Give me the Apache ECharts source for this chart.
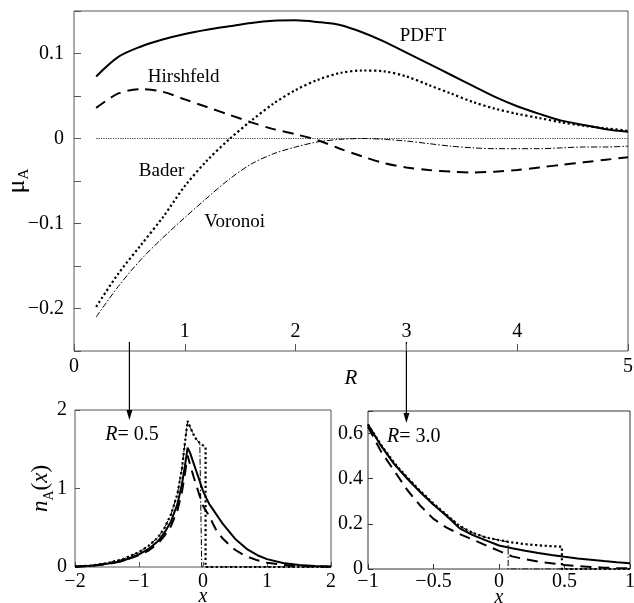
<!DOCTYPE html>
<html>
<head>
<meta charset="utf-8">
<script src="https://cdn.jsdelivr.net/npm/echarts@6/dist/echarts.min.js"></script>
<style>
  html, body { margin: 0; padding: 0; background: #fff; }
  #chart { width: 634px; height: 603px; }
</style>
</head>
<body>
<div id="chart"></div>
<script>
// ---- upper panel: atomic dipole mu_A versus separation R ----
const rTop = [0.2, 0.4, 0.6, 0.8, 1.0, 1.2, 1.4, 1.6, 1.8, 2.0, 2.2, 2.4, 2.6, 2.8, 3.0, 3.2, 3.4, 3.6, 3.8, 4.0, 4.2, 4.4, 4.6, 4.8, 5.0];
const muPDFT = [0.073, 0.096, 0.108, 0.1165, 0.123, 0.128, 0.132, 0.136, 0.1385, 0.139, 0.137, 0.1335, 0.125, 0.114, 0.101, 0.088, 0.075, 0.062, 0.049, 0.038, 0.029, 0.021, 0.016, 0.011, 0.008];
const muHirshfeld = [0.036, 0.053, 0.058, 0.055, 0.046, 0.037, 0.028, 0.019, 0.011, 0.005, -0.002, -0.012, -0.021, -0.029, -0.034, -0.037, -0.039, -0.040, -0.039, -0.037, -0.034, -0.031, -0.028, -0.025, -0.022];
const muBader = [-0.198, -0.159, -0.126, -0.093, -0.056, -0.026, -0.001, 0.021, 0.041, 0.057, 0.069, 0.077, 0.080, 0.079, 0.073, 0.063, 0.053, 0.043, 0.035, 0.029, 0.024, 0.019, 0.015, 0.012, 0.009];
const muVoronoi = [-0.210, -0.174, -0.143, -0.117, -0.093, -0.070, -0.048, -0.030, -0.018, -0.010, -0.004, -0.001, 0.000, -0.001, -0.003, -0.006, -0.009, -0.011, -0.012, -0.012, -0.012, -0.011, -0.010, -0.010, -0.009];
const zeroLineR = [0.2, 5.0];
const zeroLineMu = [0, 0];

// ---- lower left panel: densities at R = 0.5 ----
const xSmooth05 = [-2, -1.75, -1.5, -1.25, -1, -0.85, -0.7, -0.6, -0.5, -0.4, -0.33, -0.28, -0.24, -0.2, -0.15, -0.1, -0.05, 0, 0.05, 0.1, 0.15, 0.2, 0.3, 0.4, 0.5, 0.6, 0.7, 0.85, 1, 1.25, 1.5, 1.75, 2];
const nPDFT05 = [0.005, 0.015, 0.04, 0.08, 0.16, 0.23, 0.33, 0.44, 0.58, 0.80, 1.05, 1.30, 1.52, 1.45, 1.33, 1.21, 1.09, 0.97, 0.88, 0.80, 0.74, 0.68, 0.56, 0.46, 0.36, 0.29, 0.22, 0.15, 0.10, 0.05, 0.025, 0.012, 0.005];
const nHirshfeld05 = [0.004, 0.013, 0.035, 0.075, 0.15, 0.21, 0.30, 0.40, 0.52, 0.72, 0.95, 1.20, 1.42, 1.30, 1.16, 1.03, 0.90, 0.78, 0.71, 0.65, 0.56, 0.48, 0.37, 0.29, 0.22, 0.17, 0.13, 0.085, 0.055, 0.027, 0.013, 0.007, 0.003];
const xBader05 = [-2, -1.75, -1.5, -1.25, -1, -0.85, -0.7, -0.6, -0.5, -0.4, -0.33, -0.28, -0.24, -0.2, -0.15, -0.1, -0.05, 0, 0.04, 0.04, 2];
const nBader05 = [0.006, 0.018, 0.05, 0.10, 0.19, 0.27, 0.38, 0.50, 0.67, 0.93, 1.25, 1.60, 1.86, 1.78, 1.69, 1.62, 1.58, 1.55, 1.53, 0, 0];
const xVoronoi05 = [-2, -1.75, -1.5, -1.25, -1, -0.85, -0.7, -0.6, -0.5, -0.4, -0.33, -0.28, -0.24, -0.2, -0.15, -0.1, -0.05, -0.02, -0.02, 2];
const nVoronoi05 = [0.006, 0.018, 0.05, 0.10, 0.19, 0.27, 0.38, 0.50, 0.67, 0.93, 1.25, 1.60, 1.86, 1.78, 1.69, 1.62, 1.58, 1.56, 0, 0];

// ---- lower right panel: densities at R = 3.0 ----
const xSmooth30 = [-1, -0.9, -0.8, -0.7, -0.6, -0.5, -0.4, -0.3, -0.2, -0.1, 0, 0.1, 0.2, 0.3, 0.4, 0.5, 0.6, 0.7, 0.8, 0.9, 1];
const nPDFT30 = [0.64, 0.545, 0.465, 0.40, 0.34, 0.285, 0.235, 0.18, 0.15, 0.127, 0.104, 0.092, 0.081, 0.071, 0.062, 0.054, 0.047, 0.041, 0.035, 0.030, 0.026];
const nHirshfeld30 = [0.63, 0.52, 0.435, 0.35, 0.28, 0.222, 0.183, 0.155, 0.13, 0.105, 0.08, 0.056, 0.043, 0.033, 0.025, 0.018, 0.013, 0.009, 0.006, 0.004, 0.003];
const xBader30 = [-1, -0.9, -0.8, -0.7, -0.6, -0.5, -0.4, -0.3, -0.2, -0.1, 0, 0.1, 0.2, 0.3, 0.4, 0.48, 0.48, 1];
const nBader30 = [0.64, 0.55, 0.47, 0.405, 0.345, 0.29, 0.24, 0.19, 0.16, 0.14, 0.128, 0.118, 0.11, 0.105, 0.101, 0.099, 0, 0];
const xVoronoi30 = [-1, -0.9, -0.8, -0.7, -0.6, -0.5, -0.4, -0.3, -0.2, -0.1, 0, 0.07, 0.07, 1];
const nVoronoi30 = [0.64, 0.55, 0.47, 0.405, 0.345, 0.29, 0.24, 0.19, 0.16, 0.14, 0.128, 0.12, 0, 0];

const serif = '"Liberation Serif", "Times New Roman", serif';
const frame = '#555';

const styles = {
  pdft: { color: '#000', width: 2, type: 'solid' },
  hirshfeld: { color: '#000', width: 2, type: [11, 7] },
  bader: { color: '#000', width: 2.2, type: [2.2, 2.6] },
  voronoi: { color: '#000', width: 1, type: [6, 2, 1.5, 2] },
  zero: { color: '#444', width: 1, type: [1.2, 1.2] }
};

function pairs(xs, ys) {
  return xs.map((x, i) => [x, ys[i]]);
}
function curve(name, axis, xs, ys, style, smooth) {
  return {
    name: name,
    type: 'line',
    xAxisIndex: axis,
    yAxisIndex: axis,
    data: pairs(xs, ys),
    showSymbol: false,
    symbol: 'none',
    smooth: smooth || false,
    lineStyle: style,
    silent: true
  };
}
function signed(v, digits) {
  if (Math.abs(v) < 1e-9) return '0';
  const s = Math.abs(v).toFixed(digits).replace(/\.?0+$/, '');
  return (v < 0 ? '\u2212' : '') + s;
}

const tickFont = { fontFamily: serif, fontSize: 20, color: '#000' };
const noLine = { show: false, onZero: false };

const chart = echarts.init(document.getElementById('chart'), null, { renderer: 'canvas' });

chart.setOption({
  animation: false,
  backgroundColor: '#fff',
  grid: [
    { left: 74, top: 11, width: 554, height: 340, show: true, borderColor: frame, borderWidth: 1, backgroundColor: 'transparent', containLabel: false, outerBoundsMode: 'none' },
    { left: 75, top: 410, width: 256, height: 157, show: true, borderColor: frame, borderWidth: 1, backgroundColor: 'transparent', containLabel: false, outerBoundsMode: 'none' },
    { left: 368, top: 411, width: 262, height: 158, show: true, borderColor: '#333', borderWidth: 1, backgroundColor: 'transparent', containLabel: false, outerBoundsMode: 'none' }
  ],
  xAxis: [
    {
      gridIndex: 0, type: 'value', position: 'bottom', min: 0, max: 5, interval: 1,
      axisLine: noLine,
      axisTick: { inside: true, length: 7, lineStyle: { color: frame } },
      splitLine: { show: false },
      axisLabel: Object.assign({ inside: true, margin: 9, formatter: v => (v === 0 || v === 5) ? '' : String(v) }, tickFont),
      name: 'R', nameLocation: 'middle', nameGap: 17, nameMoveOverlap: false,
      nameTextStyle: { fontFamily: serif, fontSize: 21, fontStyle: 'italic', color: '#000' }
    },
    {
      gridIndex: 1, type: 'value', position: 'bottom', min: -2, max: 2, interval: 1,
      axisLine: noLine,
      axisTick: { inside: true, length: 5, lineStyle: { color: frame } },
      splitLine: { show: false },
      axisLabel: Object.assign({ margin: 5, formatter: v => signed(v, 0) }, tickFont),
      name: 'x', nameLocation: 'middle', nameGap: 20, nameMoveOverlap: false,
      nameTextStyle: { fontFamily: serif, fontSize: 20, fontStyle: 'italic', color: '#000' }
    },
    {
      gridIndex: 2, type: 'value', position: 'bottom', min: -1, max: 1, interval: 0.5,
      axisLine: noLine,
      axisTick: { inside: true, length: 5, lineStyle: { color: '#333' } },
      splitLine: { show: false },
      axisLabel: Object.assign({ margin: 3, formatter: v => signed(v, 1) }, tickFont),
      name: 'x', nameLocation: 'middle', nameGap: 19, nameMoveOverlap: false,
      nameTextStyle: { fontFamily: serif, fontSize: 20, fontStyle: 'italic', color: '#000' }
    },
    {
      // end values of the R axis, printed below the frame
      gridIndex: 0, type: 'value', position: 'bottom', min: 0, max: 5, interval: 1,
      axisLine: noLine, axisTick: { show: false }, splitLine: { show: false },
      axisLabel: Object.assign({ margin: 6, formatter: v => (v === 0 || v === 5) ? String(v) : '' }, tickFont)
    }
  ],
  yAxis: [
    {
      gridIndex: 0, type: 'value', position: 'left', min: -0.25, max: 0.15, interval: 0.05,
      axisLine: noLine,
      axisTick: { inside: true, length: 7, lineStyle: { color: frame } },
      splitLine: { show: false },
      axisLabel: Object.assign({
        margin: 10,
        formatter: v => {
          const k = Math.round(v * 100);
          if (k % 10 !== 0) return '';
          return signed(k / 100, 1);
        }
      }, tickFont),
      name: '{m|\u03bc}{s|A}', nameLocation: 'middle', nameRotate: 90, nameGap: 42, nameMoveOverlap: false,
      nameTextStyle: {
        color: '#000',
        rich: {
          m: { fontFamily: serif, fontSize: 26, lineHeight: 30, verticalAlign: 'middle', color: '#000' },
          s: { fontFamily: serif, fontSize: 15, lineHeight: 30, verticalAlign: 'bottom', color: '#000' }
        }
      }
    },
    {
      gridIndex: 1, type: 'value', position: 'left', min: 0, max: 2, interval: 1,
      axisLine: noLine,
      axisTick: { inside: true, length: 5, lineStyle: { color: frame } },
      splitLine: { show: false },
      axisLabel: Object.assign({ margin: 8, formatter: v => signed(v, 0) }, tickFont),
      name: '{i|n}{s|A}{r|(}{i|x}{r|)}', nameLocation: 'middle', nameRotate: 90, nameGap: 19, nameMoveOverlap: false,
      nameTextStyle: {
        color: '#000',
        rich: {
          i: { fontFamily: serif, fontSize: 23, fontStyle: 'italic', lineHeight: 30, verticalAlign: 'middle', color: '#000' },
          r: { fontFamily: serif, fontSize: 23, lineHeight: 30, verticalAlign: 'middle', color: '#000' },
          s: { fontFamily: serif, fontSize: 14, lineHeight: 30, verticalAlign: 'bottom', color: '#000' }
        }
      }
    },
    {
      gridIndex: 2, type: 'value', position: 'left', min: 0, max: 0.7, interval: 0.2,
      axisLine: noLine,
      axisTick: { inside: true, length: 5, lineStyle: { color: '#333' } },
      splitLine: { show: false },
      axisLabel: Object.assign({ margin: 5, formatter: v => (v > 0.65 ? '' : signed(v, 1)) }, tickFont)
    }
  ],
  series: [
    curve('zero', 0, zeroLineR, zeroLineMu, styles.zero),
    curve('PDFT', 0, rTop, muPDFT, styles.pdft, 0.3),
    curve('Hirshfeld', 0, rTop, muHirshfeld, styles.hirshfeld, 0.3),
    curve('Bader', 0, rTop, muBader, styles.bader, 0.3),
    curve('Voronoi', 0, rTop, muVoronoi, styles.voronoi, 0.3),

    curve('Voronoi R=0.5', 1, xVoronoi05, nVoronoi05, styles.voronoi),
    curve('Bader R=0.5', 1, xBader05, nBader05, styles.bader),
    curve('Hirshfeld R=0.5', 1, xSmooth05, nHirshfeld05, styles.hirshfeld),
    curve('PDFT R=0.5', 1, xSmooth05, nPDFT05, styles.pdft),

    curve('Voronoi R=3.0', 2, xVoronoi30, nVoronoi30, styles.voronoi),
    curve('Bader R=3.0', 2, xBader30, nBader30, styles.bader),
    curve('Hirshfeld R=3.0', 2, xSmooth30, nHirshfeld30, styles.hirshfeld),
    curve('PDFT R=3.0', 2, xSmooth30, nPDFT30, styles.pdft)
  ]
});

// annotations placed in data coordinates of each panel
function px(axis, pt) {
  return chart.convertToPixel({ xAxisIndex: axis, yAxisIndex: axis }, pt);
}
const curveNames = [
  { text: 'PDFT', at: [3.15, 0.12] },
  { text: 'Hirshfeld', at: [0.99, 0.072] },
  { text: 'Bader', at: [0.79, -0.038] },
  { text: 'Voronoi', at: [1.45, -0.098] }
];
const graphics = [];
curveNames.forEach(c => {
  const p = px(0, c.at);
  graphics.push({
    type: 'text', x: p[0], y: p[1], silent: true,
    style: { text: c.text, fontFamily: serif, fontSize: 19, fill: '#000', align: 'center', verticalAlign: 'middle' }
  });
});

// arrows linking R values on the upper axis to the lower panels
const arrowTargets = [
  { r: 0.5, tipY: 420 },
  { r: 3.0, tipY: 423 }
];
arrowTargets.forEach(a => {
  const base = px(0, [a.r, -0.25]);
  const x = base[0];
  const y0 = base[1] - 9;
  const tip = a.tipY;
  graphics.push({ type: 'line', silent: true, shape: { x1: x, y1: y0, x2: x, y2: tip - 6 }, style: { stroke: '#000', lineWidth: 1.2 } });
  graphics.push({ type: 'polygon', silent: true, shape: { points: [[x - 3, tip - 10], [x + 3, tip - 10], [x, tip]] }, style: { fill: '#000' } });
});

// separation labels inside the lower panels
const panelLabels = [
  { axis: 1, at: [-1.11, 1.68], value: '= 0.5' },
  { axis: 2, at: [-0.65, 0.585], value: '= 3.0' }
];
panelLabels.forEach(l => {
  const p = px(l.axis, l.at);
  graphics.push({
    type: 'text', x: p[0], y: p[1], silent: true,
    style: {
      text: '{i|R}{r|' + l.value + '}',
      align: 'center', verticalAlign: 'middle',
      rich: {
        i: { fontFamily: serif, fontSize: 20, fontStyle: 'italic', fill: '#000' },
        r: { fontFamily: serif, fontSize: 20, fill: '#000' }
      }
    }
  });
});

chart.setOption({ graphic: graphics });
</script>
</body>
</html>
